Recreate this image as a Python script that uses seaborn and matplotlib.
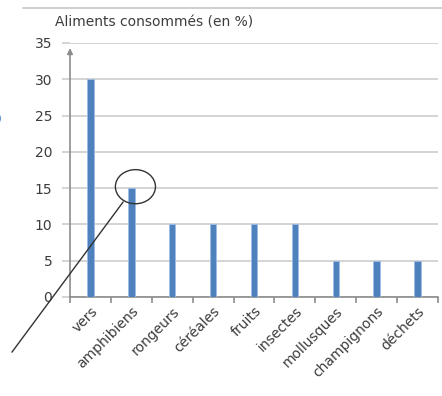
import matplotlib
matplotlib.use("Agg")
import matplotlib.pyplot as plt
from matplotlib.patches import Ellipse
from matplotlib.lines import Line2D
import seaborn as sns
import pandas as pd

categories = ["vers", "amphibiens", "rongeurs", "céréales", "fruits",
              "insectes", "mollusques", "champignons", "déchets"]
values = [30, 15, 10, 10, 10, 10, 5, 5, 5]
y_ticks = [0, 5, 10, 15, 20, 25, 30, 35]
title = "Aliments consommés (en %)"

sns.set_style("white")
plt.rcParams["font.family"] = ["DejaVu Sans"]

W, H = 442, 396
fig = plt.figure(figsize=(W / 100, H / 100), dpi=100)
ax = fig.add_axes([70 / W, 1 - 297 / H, 368 / W, 254 / H])

df = pd.DataFrame({"aliment": categories, "pct": values})
sns.barplot(data=df, x="aliment", y="pct", ax=ax, color="#4F81BD",
            width=0.16, saturation=1, edgecolor="#9DBDE6", linewidth=0.6,
            zorder=3)

text_col = "#3c3c3c"
grid_col = "#d4d4d4"
axis_col = "#8c8c8c"
fs = 10

ax.set_xlim(-0.5, len(categories) - 0.5)
ax.set_ylim(0, 35)
ax.set_yticks(y_ticks)
ax.set_yticklabels([str(v) for v in y_ticks])
ax.yaxis.grid(True, color=grid_col, linewidth=1.4, zorder=0)
ax.set_xlabel("")
ax.set_ylabel("")

for s in ["top", "right", "left"]:
    ax.spines[s].set_visible(False)
ax.spines["bottom"].set_color(axis_col)
ax.spines["bottom"].set_linewidth(1.2)

ax.tick_params(axis="y", length=5.8, width=1.4, color=grid_col, pad=7,
               labelsize=fs, labelcolor=text_col, left=True)
ax.tick_params(axis="x", which="major", length=0, pad=5)
ax.set_xticks([i - 0.5 for i in range(len(categories) + 1)], minor=True)
ax.tick_params(axis="x", which="minor", length=4, width=1.2, color=axis_col,
               bottom=True)
ax.set_xticklabels(categories, rotation=45, ha="right",
                   rotation_mode="anchor", fontsize=fs, color=text_col)

# vertical axis drawn as an arrow
ax.annotate("", xy=(-0.5, 34.3), xytext=(-0.5, 0), xycoords="data",
            arrowprops=dict(arrowstyle="-|>", color=axis_col, lw=1.2,
                            mutation_scale=8, shrinkA=0, shrinkB=0),
            annotation_clip=False, zorder=4)

# circled amphibiens value with a pointer line
ax.add_patch(Ellipse((1.1, 15.2), 0.98, 4.7, fill=False, edgecolor="#333333",
                     linewidth=1.0, zorder=5, clip_on=False))
ax.add_line(Line2D([-1.92, 0.8], [-7.6, 13.1], color="#333333", linewidth=1.0,
                   zorder=5, clip_on=False))

fig.text(55 / W, 1 - 23 / H, title, fontsize=fs, color=text_col,
         va="center", ha="left")
fig.add_artist(Line2D([23 / W, 1], [1 - 8 / H, 1 - 8 / H], color="#cfcfcf",
                      linewidth=1.4))
fig.text(-3 / W, 1 - 119 / H, ")", fontsize=9, color="#3a78c0",
         va="center", ha="left")

fig.savefig("out.png", dpi=100, facecolor="white")
